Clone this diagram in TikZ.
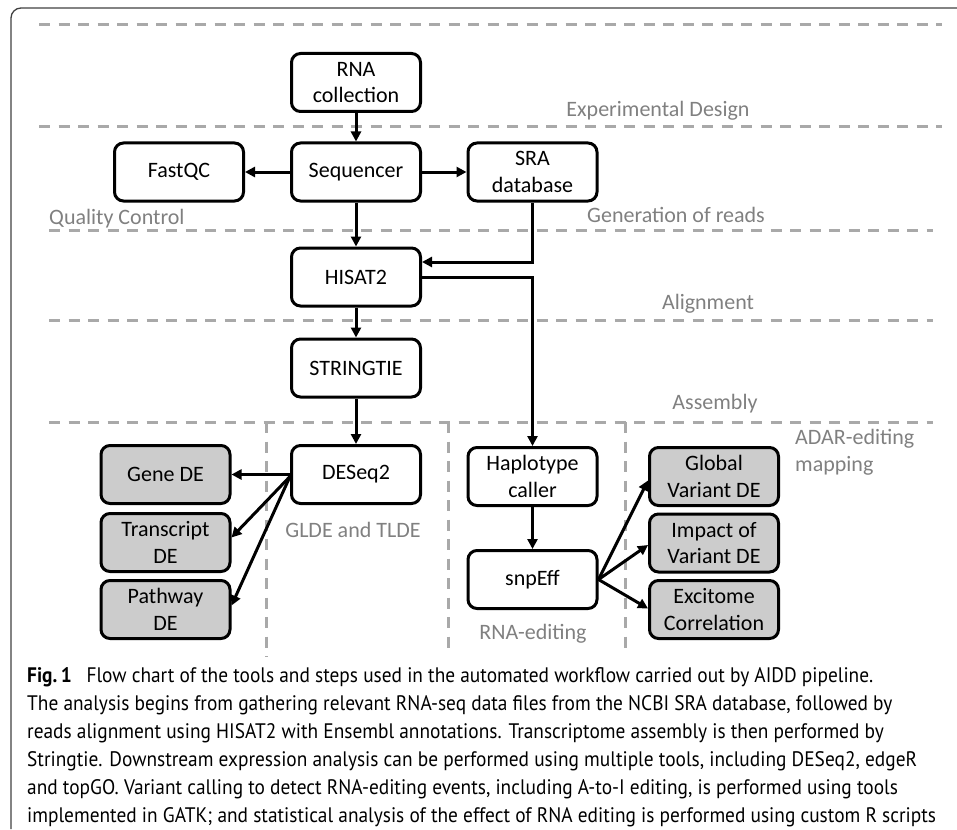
\documentclass[tikz,border=0pt]{standalone}
\usepackage{fontspec}
\setmainfont{Carlito}
\newfontfamily\capfont[FakeStretch=0.922]{PT Sans}
\usetikzlibrary{arrows.meta}
\definecolor{labelgray}{HTML}{808080}
\definecolor{sepgray}{HTML}{A9A9A9}
\definecolor{framegray}{HTML}{404040}
\definecolor{resfill}{HTML}{CCCCCC}
\begin{document}
\begin{tikzpicture}[x=1pt,y=-1pt,
  box/.style={draw=black, line width=3pt, rounded corners=9pt, minimum width=129pt, minimum height=58pt, align=center, font=\fontsize{22}{26.5}\selectfont, inner sep=0pt},
  res/.style={box, fill=resfill},
  lbl/.style={text=labelgray, font=\fontsize{22}{26.5}\selectfont, inner sep=0pt, text height=14pt, text depth=0pt},
  sep/.style={draw=sepgray, line width=3pt, dash pattern=on 11pt off 8.5pt},
  arr/.style={line width=3pt, -{Triangle[length=10pt,width=10pt]}},
  captxt/.style={font=\capfont\fontsize{21}{24}\selectfont, inner sep=0pt, anchor=base west}
]
\useasboundingbox (0,0) rectangle (957,829);
% frame
\draw[framegray, line width=1.3pt, rounded corners=10pt] (11,829) -- (11,8) -- (957,8);
% separators
\draw[sep] (39,25) -- (942,25);
\draw[sep] (39,127) -- (942,127);
\draw[sep] (49,230) -- (933,230);
\draw[sep] (49,320) -- (933,320);
\draw[sep] (49,422) -- (933,422);
\draw[sep] (266,422) -- (266,657);
\draw[sep] (448,422) -- (448,648);
\draw[sep] (625,422) -- (625,652);
% nodes
\node[box] (rna) at (356,82.5) {RNA\\collection};
\node[box] (fastqc) at (179,172) {FastQC};
\node[box] (seq) at (356,172) {Sequencer};
\node[box] (sra) at (532.5,172) {SRA\\database};
\node[box] (hisat) at (356,277) {HISAT2};
\node[box] (string) at (356,368) {STRINGTIE};
\node[box] (deseq) at (356,474.5) {DESeq2};
\node[res] (gene) at (165.5,474.5) {Gene DE};
\node[res] (trans) at (165.5,542.5) {Transcript\\DE};
\node[res] (path) at (165.5,609.5) {Pathway\\DE};
\node[box] (hap) at (532.5,476.5) {Haplotype\\caller};
\node[box] (snp) at (532.5,579.5) {snpEff};
\node[res] (glob) at (714,476.5) {Global\\Variant DE};
\node[res] (imp) at (714,543) {Impact of\\Variant DE};
\node[res] (exc) at (714,609.5) {Excitome\\Correlation};
% labels
\node[lbl] (l1) at (658,110) {Experimental Design};
\node[lbl, anchor=west] (l2) at (49,217) {Quality Control};
\node[lbl] (l3) at (676,215) {Generation of reads};
\node[lbl] (l4) at (708,302) {Alignment};
\node[lbl] (l5) at (715,402) {Assembly};
\node[lbl, anchor=west, align=left, text height=, text depth=] (l6) at (795,452) {ADAR-editing\\mapping};
\node[lbl] (l7) at (353,530) {GLDE and TLDE};
\node[lbl] (l8) at (533,632) {RNA-editing};
% connectors
\draw[arr] (rna) -- (seq);
\draw[arr] (seq) -- (fastqc);
\draw[arr] (seq) -- (sra);
\draw[arr] (seq) -- (hisat);
\draw[arr] (sra.south) |- ([yshift=15pt]hisat.east);
\draw[arr] (hisat.east) -| (hap.north);
\draw[arr] (hisat) -- (string);
\draw[arr] (string) -- (deseq);
\draw[arr] (deseq.west) -- (gene.east);
\draw[arr] ([yshift=-2pt]deseq.west) -- ([yshift=5pt]trans.east);
\draw[arr] ([yshift=-2pt]deseq.west) -- ([yshift=4pt]path.east);
\draw[arr] (hap) -- (snp);
\draw[arr] (snp.east) -- ([yshift=-4pt]glob.west);
\draw[arr] (snp.east) -- ([yshift=-2pt]imp.west);
\draw[arr] (snp.east) -- ([yshift=1pt]exc.west);
% caption
\node[captxt] (c1) at (27,682) {{\bfseries Fig.\,1}\hspace{0.7em}Flow chart of the tools and steps used in the automated workflow carried out by AIDD pipeline.};
\node[captxt] (c2) at (27,710) {The analysis begins from gathering relevant RNA-seq data files from the NCBI SRA database, followed by};
\node[captxt] (c3) at (27,738) {reads alignment using HISAT2 with Ensembl annotations. Transcriptome assembly is then performed by};
\node[captxt] (c4) at (27,766) {Stringtie. Downstream expression analysis can be performed using multiple tools, including DESeq2, edgeR};
\node[captxt] (c5) at (27,794) {and topGO. Variant calling to detect RNA-editing events, including A-to-I editing, is performed using tools};
\node[captxt] (c6) at (27,822) {implemented in GATK; and statistical analysis of the effect of RNA editing is performed using custom R scripts};
\end{tikzpicture}
\end{document}
